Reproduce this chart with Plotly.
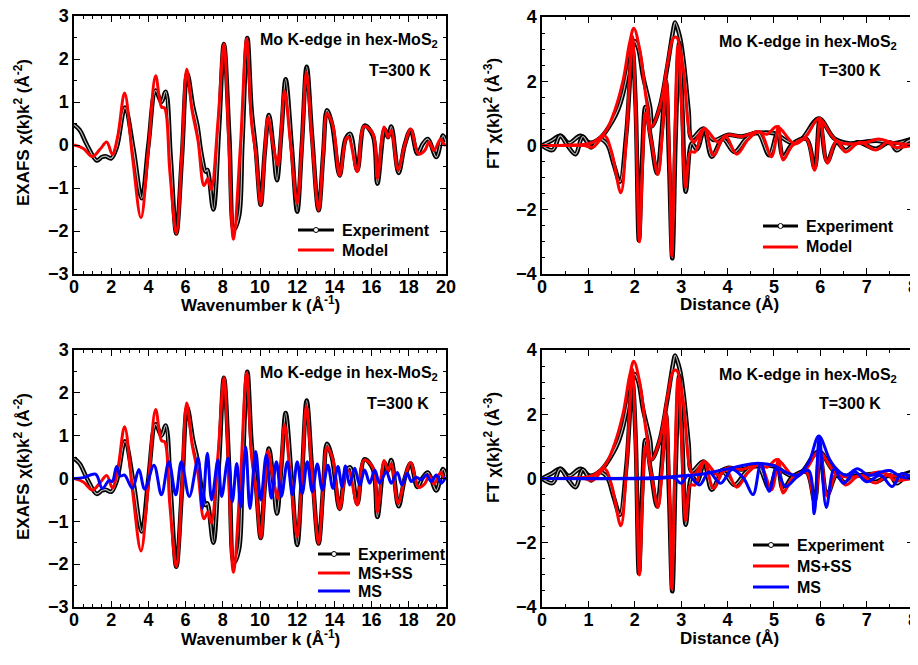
import plotly.graph_objects as go

# ---------------- EXAFS (k-space) ----------------
k_exp = [0, 0.3, 0.7, 1.22, 1.5, 1.7, 2.0, 2.3, 2.74, 3.2, 3.64, 4.0, 4.39, 4.7, 4.93, 5.2, 5.5, 5.8,
         6.09, 6.4, 6.63, 6.85, 7.08, 7.17, 7.49, 7.8, 8.06, 8.35, 8.6, 8.87, 9.05, 9.32, 9.55, 9.77,
         10.04, 10.25, 10.48, 10.7, 10.91, 11.15, 11.38, 11.7, 12.0, 12.25, 12.51, 12.8, 13.15, 13.4,
         13.6, 13.87, 14.28, 14.6, 14.85, 15.23, 15.62, 16.07, 16.31, 16.7, 16.88, 17.06, 17.45, 17.78,
         18.1, 18.46, 18.76, 19.03, 19.48, 19.84, 20.0]
chi_exp = [0.47, 0.35, 0.0, -0.36, -0.28, -0.26, -0.31, -0.05, 0.87, -0.1, -1.24, 0.0, 1.27, 1.0, 1.24,
           -0.3, -2.06, -0.3, 1.66, 0.9, 0.46, -0.2, -0.62, -0.58, -1.5, 0.4, 2.35, 0.2, -1.97, -1.66,
           0.0, 2.49, 0.8, -0.08, -1.39, -0.2, 0.70, 0.0, -0.82, 0.3, 1.53, 0.0, -1.55, 0.0, 1.82, 0.2,
           -1.52, -0.2, 0.81, 0.49, -0.71, 0.14, 0.26, -0.59, 0.45, 0.22, -0.90, 0.37, 0.18, 0.43, -0.65,
           0.0, 0.35, -0.2, 0.03, 0.14, -0.28, 0.22, 0.07]

k_mod = [0, 0.5, 0.99, 1.4, 1.76, 2.06, 2.35, 2.72, 3.15, 3.6, 4.0, 4.39, 4.71, 4.87, 5.15, 5.5, 5.8,
         6.06, 6.35, 6.67, 6.99, 7.2, 7.38, 7.75, 8.06, 8.32, 8.57, 8.95, 9.28, 9.55, 9.77, 10.04,
         10.25, 10.43, 10.7, 10.97, 11.15, 11.32, 11.65, 12.0, 12.25, 12.49, 12.8, 13.15, 13.4, 13.6,
         13.92, 14.28, 14.64, 14.77, 15.23, 15.59, 16.07, 16.31, 16.67, 16.88, 17.06, 17.42, 17.78,
         18.1, 18.53, 18.85, 19.1, 19.35, 19.71, 19.92, 20.0]
chi_mod = [0.0, -0.08, -0.27, -0.1, 0.07, -0.22, 0.2, 1.21, -0.3, -1.69, -0.1, 1.61, 0.88, 0.86, -0.6,
           -2.06, -0.2, 1.76, 0.8, 0.10, -0.94, -0.78, -1.04, 0.6, 2.35, 0.1, -2.19, 0.0, 2.47, 0.5,
           -0.2, -1.39, -0.2, 0.64, 0.0, -0.47, 0.4, 1.26, 0.0, -1.36, 0.0, 1.69, 0.1, -1.52, -0.2, 0.73,
           0.45, -0.71, 0.16, 0.18, -0.62, 0.43, 0.26, -0.78, 0.42, 0.18, 0.34, -0.58, 0.0, 0.37, -0.21,
           -0.13, 0.07, -0.13, 0.14, 0.0, 0.03]

k_ms = [0, 0.5, 1.16, 1.52, 1.88, 2.06, 2.29, 2.5, 2.72, 3.14, 3.49, 3.8, 4.3, 4.7, 5.1, 5.47, 5.77,
        6.2, 6.67, 6.9, 7.17, 7.4, 7.74, 7.94, 8.28, 8.51, 8.75, 8.96, 9.23, 9.46, 9.77, 10.04, 10.34,
        10.61, 10.88, 11.15, 11.47, 11.74, 12.0, 12.27, 12.54, 12.81, 13.08, 13.35, 13.65, 13.92,
        14.19, 14.41, 14.59, 14.82, 15.09, 15.36, 15.63, 15.9, 16.17, 16.43, 16.79, 17.06, 17.38,
        17.63, 17.92, 18.14, 18.4, 18.67, 18.94, 19.21, 19.48, 19.75, 19.98]
chi_ms = [0.0, 0.02, 0.1, -0.23, -0.05, -0.07, 0.28, 0.06, 0.08, -0.23, 0.21, -0.25, 0.31, -0.38, 0.39,
          -0.38, 0.39, -0.42, 0.47, -0.7, 0.59, -0.5, 0.43, -0.42, 0.47, -0.54, 0.35, -0.67, 0.74, -0.7,
          0.63, -0.5, 0.55, -0.46, 0.39, -0.42, 0.39, -0.38, 0.39, -0.35, 0.39, -0.31, 0.34, -0.27, 0.31,
          -0.23, 0.28, -0.19, 0.29, -0.15, 0.24, -0.15, 0.2, -0.11, 0.2, -0.11, 0.16, -0.11, 0.14, -0.15,
          0.12, -0.07, 0.03, -0.03, 0.08, -0.07, 0.08, -0.11, 0.04]

# ---------------- Fourier transforms (R-space) ----------------
r_exp_mag = [0, 0.2, 0.4, 0.58, 0.83, 1.03, 1.28, 1.53, 1.65, 1.75, 1.85, 1.93, 2.0, 2.08, 2.18, 2.33,
             2.38, 2.54, 2.69, 2.83, 2.87, 2.97, 3.05, 3.16, 3.23, 3.48, 3.7, 4.0, 4.3, 4.6, 5.0, 5.4,
             5.6, 5.97, 6.3, 6.6, 6.9, 7.2, 7.6, 8.0]
ft_exp_mag = [0.0, 0.15, 0.3, 0.08, 0.3, 0.09, 0.27, 0.79, 1.15, 1.62, 2.3, 2.9, 3.25, 3.0, 2.15, 1.2,
              0.6, 1.2, 2.35, 3.6, 3.83, 3.4, 2.66, 1.1, 0.22, 0.53, 0.17, 0.33, 0.28, 0.38, 0.38, 0.07,
              0.2, 0.84, 0.22, 0.07, 0.1, 0.15, 0.07, 0.22]

r_exp_im = [0, 0.23, 0.39, 0.55, 0.72, 0.88, 1.06, 1.24, 1.4, 1.55, 1.68, 1.82, 1.95, 2.02, 2.09, 2.16,
            2.23, 2.35, 2.48, 2.58, 2.67, 2.74, 2.81, 2.88, 2.96, 3.03, 3.1, 3.23, 3.34, 3.5, 3.66, 3.9,
            4.15, 4.4, 4.65, 4.9, 5.08, 5.2, 5.4, 5.7, 5.88, 5.99, 6.15, 6.35, 6.55, 6.8, 7.2, 7.5, 7.65,
            7.85, 8.0]
ft_exp_im = [0.0, -0.14, 0.3, 0.0, -0.27, 0.28, -0.06, 0.2, 0.05, -0.6, -1.13, 0.4, 3.0, 1.2, -2.95,
             -0.4, 1.2, 0.2, -0.87, 0.4, 2.0, -0.5, -3.51, 0.2, 3.2, 1.0, -1.44, 0.07, -0.12, 0.5, -0.35,
             0.2, -0.2, 0.2, 0.4, -0.3, 0.4, -0.35, 0.05, 0.2, -0.7, 0.8, -0.5, 0.1, -0.15, 0.1, -0.1,
             0.1, -0.15, 0.1, 0.2]

r_mod_mag = [0, 0.5, 0.9, 1.1, 1.25, 1.39, 1.57, 1.75, 1.89, 1.98, 2.11, 2.25, 2.36, 2.54, 2.72, 2.83,
             2.9, 3.05, 3.18, 3.27, 3.5, 3.8, 4.0, 4.3, 4.65, 4.85, 5.07, 5.45, 5.7, 5.97, 6.25, 6.4,
             6.65, 7.0, 7.25, 7.6, 8.0]
ft_mod_mag = [0.0, 0.01, 0.03, 0.1, 0.25, 0.48, 1.1, 2.04, 3.2, 3.65, 2.97, 1.42, 0.59, 1.2, 2.66,
              3.34, 3.37, 2.35, 0.38, 0.1, 0.53, 0.1, 0.33, 0.28, 0.43, 0.35, 0.59, 0.05, 0.3, 0.84,
              0.3, 0.1, 0.05, 0.1, 0.2, 0.08, 0.02]

r_mod_im = [0, 0.5, 0.9, 1.1, 1.35, 1.5, 1.7, 1.82, 1.95, 2.02, 2.1, 2.17, 2.23, 2.35, 2.5, 2.6, 2.68,
            2.75, 2.8, 2.86, 2.93, 3.0, 3.1, 3.2, 3.3, 3.5, 3.7, 3.95, 4.2, 4.45, 4.7, 4.95, 5.1, 5.2,
            5.4, 5.7, 5.88, 6.0, 6.15, 6.35, 6.55, 6.85, 7.2, 7.45, 7.6, 8.0]
ft_mod_im = [0.0, 0.0, 0.0, -0.05, 0.3, -0.2, -1.47, 0.3, 3.4, 1.0, -3.0, -0.5, 1.0, 0.2, -0.9, 0.5,
             2.0, -0.5, -3.45, 0.0, 3.1, 1.5, -1.3, -0.2, -0.2, 0.53, -0.3, 0.3, -0.27, 0.2, 0.43, -0.35,
             0.59, -0.45, 0.0, 0.2, -0.77, 0.84, -0.55, 0.15, -0.2, 0.1, -0.14, 0.1, -0.05, 0.0]

r_ms_mag = [0, 1.0, 2.0, 2.5, 3.0, 3.5, 4.0, 4.6, 5.0, 5.25, 5.5, 5.75, 5.97, 6.2, 6.35, 6.55, 6.8, 7.05,
            7.3, 7.5, 7.75, 8.0]
ft_ms_mag = [0.0, 0.0, 0.01, 0.03, 0.08, 0.15, 0.3, 0.47, 0.4, 0.2, 0.1, 0.5, 1.32, 0.6, 0.3, 0.1, 0.3,
             0.1, 0.2, 0.25, 0.05, 0.0]

r_ms_im = [0, 2.5, 2.85, 3.0, 3.15, 3.4, 3.6, 3.85, 4.1, 4.35, 4.55, 4.72, 4.9, 5.05, 5.25, 5.5, 5.75,
           5.87, 5.98, 6.13, 6.3, 6.5, 6.75, 7.0, 7.3, 7.55, 7.75, 8.0]
ft_ms_im = [0.0, 0.0, 0.02, -0.15, 0.1, -0.2, 0.2, -0.15, 0.28, 0.0, -0.5, 0.47, -0.4, 0.3, -0.25, 0.05,
            0.25, -1.1, 1.3, -0.9, 0.3, -0.15, 0.2, -0.1, 0.1, -0.25, 0.15, 0.0]

# legend labels
legend_top = ["Experiment", "Model"]
legend_bottom = ["Experiment", "MS+SS", "MS"]

BLACK, RED, BLUE = "#000000", "#ff0000", "#0000ff"
FONT = "Liberation Sans, Arial, sans-serif"

# The page body has an 8 px margin, so the figure is drawn 8 px smaller and
# all reference pixel positions are shifted by that offset.
OFF = 8
W, H = 918 - OFF, 665 - OFF

fig = go.Figure()


def add_exp(x, y, xa, ya):
    fig.add_trace(go.Scatter(x=x, y=y, xaxis=xa, yaxis=ya, mode="lines", showlegend=False,
                             line=dict(color=BLACK, width=4.5, shape="spline", smoothing=1.0)))
    fig.add_trace(go.Scatter(x=x, y=y, xaxis=xa, yaxis=ya, mode="lines", showlegend=False,
                             line=dict(color="#bbbbbb", width=1.2, shape="spline", smoothing=1.0)))


def add_line(x, y, xa, ya, color):
    fig.add_trace(go.Scatter(x=x, y=y, xaxis=xa, yaxis=ya, mode="lines", showlegend=False,
                             line=dict(color=color, width=3, shape="spline", smoothing=1.0)))


# panel 1: top-left
add_exp(k_exp, chi_exp, "x", "y")
add_line(k_mod, chi_mod, "x", "y", RED)
# panel 2: top-right
add_exp(r_exp_mag, ft_exp_mag, "x2", "y2")
add_exp(r_exp_im, ft_exp_im, "x2", "y2")
add_line(r_mod_mag, ft_mod_mag, "x2", "y2", RED)
add_line(r_mod_im, ft_mod_im, "x2", "y2", RED)
# panel 3: bottom-left
add_exp(k_exp, chi_exp, "x3", "y3")
add_line(k_mod, chi_mod, "x3", "y3", RED)
add_line(k_ms, chi_ms, "x3", "y3", BLUE)
# panel 4: bottom-right
add_exp(r_exp_mag, ft_exp_mag, "x4", "y4")
add_exp(r_exp_im, ft_exp_im, "x4", "y4")
add_line(r_mod_mag, ft_mod_mag, "x4", "y4", RED)
add_line(r_mod_im, ft_mod_im, "x4", "y4", RED)
add_line(r_ms_mag, ft_ms_mag, "x4", "y4", BLUE)
add_line(r_ms_im, ft_ms_im, "x4", "y4", BLUE)


def px_x(p):
    return (p - OFF) / W


def px_y(p):
    return 1 - (p - OFF) / H


tickfont = dict(family=FONT, size=18, color="black", weight="bold")


def axis(dom, rng, dtick, minor, anchor, standoff=0):
    return dict(domain=dom, range=rng, dtick=dtick, tick0=0, showline=True, linecolor="black",
                linewidth=1.5, mirror="allticks", ticks="inside", ticklen=6, tickwidth=1.2,
                tickcolor="black", showgrid=False, zeroline=False, tickfont=tickfont, anchor=anchor,
                automargin=False, ticklabeloverflow="allow", ticklabelstandoff=standoff,
                minor=dict(ticks="inside", dtick=minor, tick0=0, ticklen=3, tickwidth=1,
                           tickcolor="black", showgrid=False))


xL = [px_x(74), px_x(446)]
xR = [px_x(542), px_x(913)]
yT = [px_y(274), px_y(16)]
yB = [px_y(607), px_y(350)]
yT2 = [px_y(274), px_y(17)]

fig.update_layout(
    width=W, height=H, margin=dict(l=0, r=0, t=0, b=0, autoexpand=False),
    paper_bgcolor="white", plot_bgcolor="white", showlegend=False,
    font=dict(family=FONT, color="black"),
    xaxis=axis(xL, [0, 20], 2, 0.5, "y", -4),
    yaxis=axis(yT, [-3, 3], 1, 0.5, "x"),
    xaxis2=axis(xR, [0, 8], 1, 0.5, "y2", -4),
    yaxis2=axis(yT2, [-4, 4], 2, 0.5, "x2"),
    xaxis3=axis(xL, [0, 20], 2, 0.5, "y3", -4),
    yaxis3=axis(yB, [-3, 3], 1, 0.5, "x3"),
    xaxis4=axis(xR, [0, 8], 1, 0.5, "y4", -4),
    yaxis4=axis(yB, [-4, 4], 2, 0.5, "x4"),
)

ann_font = dict(family=FONT, size=16, color="black", weight="bold")
leg_font = dict(family=FONT, size=16, color="black", weight="bold")
title_font = dict(family=FONT, size=17, color="black", weight="bold")
anns = []
shapes = []


def txt(text, x, y, font, xanchor="center", angle=0):
    anns.append(dict(text=text, x=px_x(x), y=px_y(y), xref="paper", yref="paper", showarrow=False,
                     font=font, xanchor=xanchor, yanchor="middle", textangle=angle))


for (cx, y1, tx, y2) in [(349, 40, 400, 71), (808, 42, 850, 71), (349, 373, 398, 403),
                         (808, 375, 850, 403)]:
    txt("Mo K-edge in hex-MoS<sub>2</sub>", cx, y1, ann_font)
    txt("T=300 K", tx, y2, ann_font)

for yc in [304, 638]:
    txt("Wavenumber k (Å<sup>-1</sup>)", 260, yc, title_font)
    txt("Distance (Å)", 729, yc, title_font)
for yc in [133, 467]:
    txt("EXAFS χ(k)k<sup>2</sup> (Å<sup>-2</sup>)", 22, yc, title_font, angle=-90)
for yc in [114, 448]:
    txt("FT χ(k)k<sup>2</sup> (Å<sup>-3</sup>)", 492, yc, title_font, angle=-90)


def legend_block(x0, x1, ys, labels, colors):
    for lab, col, yy in zip(labels, colors, ys):
        shapes.append(dict(type="line", xref="paper", yref="paper", x0=px_x(x0), x1=px_x(x1),
                           y0=px_y(yy), y1=px_y(yy), line=dict(color=col, width=3)))
        if lab == "Experiment":
            xm = (x0 + x1) / 2
            shapes.append(dict(type="circle", xref="paper", yref="paper", xsizemode="pixel",
                               ysizemode="pixel", xanchor=px_x(xm), yanchor=px_y(yy),
                               x0=-2.5, x1=2.5, y0=-2.5, y1=2.5, fillcolor="white",
                               line=dict(color="black", width=1)))
        txt(lab, x1 + 6, yy, leg_font, xanchor="left")


legend_block(298, 334, [230, 250], legend_top, [BLACK, RED])
legend_block(763, 798, [226, 247], legend_top, [BLACK, RED])
legend_block(318, 350, [554, 573, 591], legend_bottom, [BLACK, RED, BLUE])
legend_block(753, 789, [545, 566, 587], legend_bottom, [BLACK, RED, BLUE])

fig.update_layout(annotations=anns, shapes=shapes)

fig.write_html("out.html")
